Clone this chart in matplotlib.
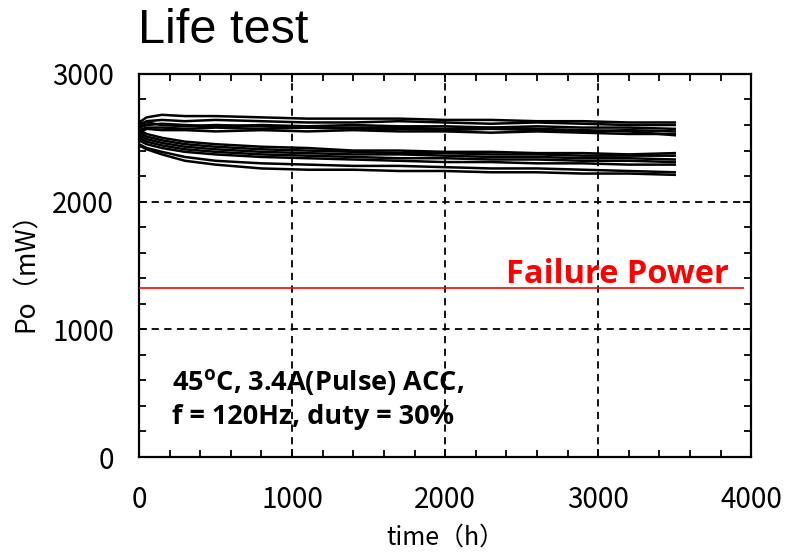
import matplotlib
matplotlib.use("Agg")
import matplotlib.pyplot as plt
from matplotlib.ticker import MultipleLocator

plt.rcParams['mathtext.fontset'] = 'custom'
plt.rcParams['mathtext.bf'] = 'Open Sans:bold'
plt.rcParams['mathtext.rm'] = 'Open Sans:bold'

# measurement times (h)
t = [0, 50, 150, 300, 500, 800, 1100, 1400, 1700, 2000, 2300, 2600, 2900, 3200, 3500]

# upper group of devices (mW)
u1 = [2620, 2660, 2680, 2670, 2670, 2660, 2650, 2650, 2650, 2640, 2640, 2630, 2630, 2620, 2620]
u2 = [2600, 2630, 2640, 2630, 2640, 2630, 2620, 2620, 2630, 2620, 2610, 2620, 2610, 2600, 2600]
u3 = [2580, 2600, 2610, 2600, 2590, 2600, 2590, 2600, 2590, 2590, 2580, 2590, 2580, 2580, 2570]
u4 = [2560, 2580, 2580, 2570, 2580, 2570, 2580, 2570, 2570, 2560, 2570, 2560, 2550, 2560, 2550]
u5 = [2540, 2570, 2560, 2560, 2550, 2560, 2550, 2560, 2550, 2550, 2540, 2550, 2540, 2530, 2530]
u6 = [2610, 2620, 2600, 2590, 2600, 2590, 2580, 2580, 2580, 2570, 2580, 2570, 2560, 2550, 2520]

# lower group of devices (mW)
l1 = [2560, 2530, 2500, 2470, 2450, 2430, 2420, 2400, 2400, 2390, 2390, 2380, 2380, 2370, 2380]
l2 = [2540, 2510, 2480, 2450, 2430, 2410, 2400, 2390, 2380, 2380, 2370, 2370, 2360, 2360, 2360]
l3 = [2520, 2490, 2460, 2430, 2410, 2390, 2380, 2370, 2370, 2360, 2350, 2350, 2340, 2340, 2330]
l4 = [2500, 2470, 2440, 2410, 2390, 2370, 2360, 2350, 2340, 2340, 2330, 2330, 2320, 2320, 2310]
l5 = [2480, 2450, 2420, 2390, 2370, 2350, 2340, 2330, 2320, 2310, 2310, 2300, 2300, 2290, 2290]
l6 = [2440, 2410, 2370, 2320, 2290, 2260, 2250, 2250, 2240, 2240, 2230, 2230, 2220, 2220, 2210]
l7 = [2450, 2420, 2390, 2350, 2320, 2300, 2290, 2280, 2280, 2270, 2260, 2260, 2250, 2240, 2230]

traces = [u1, u2, u3, u4, u5, u6, l1, l2, l3, l4, l5, l6, l7]

failure_power = 1320
failure_end = 3950

fig = plt.figure(figsize=(7.87, 5.56), dpi=100)
ax = fig.add_axes([0.1766, 0.178, 0.778, 0.689])

for y in traces:
    ax.plot(t, y, color='black', lw=1.8)

ax.hlines(failure_power, 0, failure_end, color='red', lw=1.2, zorder=3)

ax.set_xlim(0, 4000)
ax.set_ylim(0, 3000)
ax.xaxis.set_major_locator(MultipleLocator(1000))
ax.yaxis.set_major_locator(MultipleLocator(1000))
ax.xaxis.set_minor_locator(MultipleLocator(200))
ax.yaxis.set_minor_locator(MultipleLocator(200))
ax.grid(True, which='major', color='black', linestyle=(0, (4, 3)), lw=1.3)
ax.tick_params(which='both', direction='in', top=True, right=True, width=1.3)
ax.tick_params(which='major', length=6, labelsize=20)
ax.tick_params(axis='x', which='major', pad=20)
ax.tick_params(axis='y', which='major', pad=18)
ax.tick_params(which='minor', length=5)
for lab in ax.get_xticklabels() + ax.get_yticklabels():
    lab.set_family('Noto Sans CJK JP')
for s in ax.spines.values():
    s.set_linewidth(1.6)

ax.set_xlabel('time（h）', family='Noto Sans CJK JP', fontsize=18, labelpad=7)
ax.set_ylabel('Po（mW）', family='Noto Sans CJK JP', fontsize=19, labelpad=9)

fig.text(0.1753, 1 - 43 / 556, 'Life test', family='Liberation Sans', fontsize=35,
         va='baseline', ha='left')

ax.text(3850, failure_power + 45, 'Failure Power', color='red', fontsize=23.5,
        family='Open Sans', weight='bold', ha='right', va='baseline')

ax.text(216, 520, r'45$^{\mathbf{o}}$C, 3.4A(Pulse) ACC,', fontsize=19.5,
        family='Open Sans', weight='bold', ha='left', va='baseline')
ax.text(216, 262, 'f = 120Hz, duty = 30%', fontsize=19.5,
        family='Open Sans', weight='bold', ha='left', va='baseline')

fig.savefig('out.png', dpi=100)
